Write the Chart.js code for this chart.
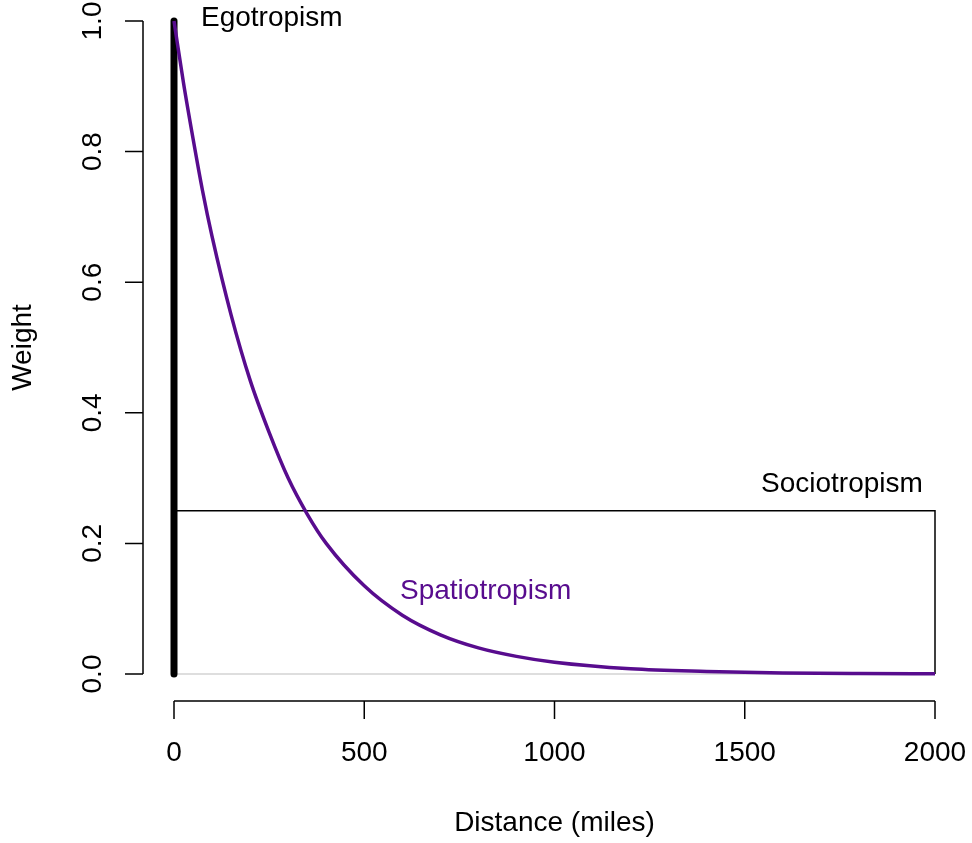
<!DOCTYPE html>
<html>
<head>
<meta charset="utf-8">
<script src="https://cdn.jsdelivr.net/npm/chart.js@4"></script>
<style>
  html, body { margin: 0; padding: 0; background: #fff; }
  #wrap { width: 972px; height: 843px; }
</style>
</head>
<body>
<div id="wrap"><canvas id="myChart" width="972" height="843"></canvas></div>
<script>
// data
const distance = [0, 25, 50, 75, 100, 150, 200, 250, 300, 350, 400, 500, 600, 700, 800, 900, 1000, 1200, 1400, 1600, 1800, 2000];
const spatioWeight = [1.0, 0.905, 0.82, 0.74, 0.67, 0.55, 0.45, 0.37, 0.30, 0.245, 0.20, 0.135, 0.09, 0.06, 0.04, 0.027, 0.018, 0.008, 0.004, 0.0017, 0.0007, 0.0003];
const egoX = [0, 0];
const egoY = [0, 1];
const socioX = [0, 2000, 2000];
const socioY = [0.25, 0.25, 0];
const baseX = [0, 2000];
const baseY = [0, 0];
const xTicks = [0, 500, 1000, 1500, 2000];
const yTicks = [0, 0.2, 0.4, 0.6, 0.8, 1.0];

const purple = '#580C8E';
const font = '28px "Liberation Sans", Arial, sans-serif';

function pts(xs, ys) {
  return xs.map(function(x, i){ return {x: x, y: ys[i]}; });
}

// R style axes + text labels
const baseAxes = {
  id: 'baseAxes',
  afterDraw(chart) {
    const c = chart.ctx;
    const xs = chart.scales.x, ys = chart.scales.y;
    c.save();
    c.strokeStyle = '#000';
    c.fillStyle = '#000';
    c.lineWidth = 1.5;
    c.font = font;

    // y axis
    const ax = 143;
    c.beginPath();
    c.moveTo(ax, ys.getPixelForValue(0));
    c.lineTo(ax, ys.getPixelForValue(1));
    yTicks.forEach(function(t){
      const py = ys.getPixelForValue(t);
      c.moveTo(ax, py);
      c.lineTo(ax - 18, py);
    });
    // x axis
    const ay = 701;
    c.moveTo(xs.getPixelForValue(0), ay);
    c.lineTo(xs.getPixelForValue(2000), ay);
    xTicks.forEach(function(t){
      const px = xs.getPixelForValue(t);
      c.moveTo(px, ay);
      c.lineTo(px, ay + 18);
    });
    c.stroke();

    c.textAlign = 'center';
    c.textBaseline = 'middle';
    xTicks.forEach(function(t){
      c.fillText(String(t), xs.getPixelForValue(t), 753);
    });
    c.fillText('Distance (miles)', (xs.left + xs.right) / 2, 823);

    yTicks.forEach(function(t){
      c.save();
      c.translate(93, ys.getPixelForValue(t));
      c.rotate(-Math.PI / 2);
      c.fillText(t.toFixed(1), 0, 0);
      c.restore();
    });
    c.save();
    c.translate(23, (ys.top + ys.bottom) / 2);
    c.rotate(-Math.PI / 2);
    c.fillText('Weight', 0, 0);
    c.restore();

    // curve labels
    c.textAlign = 'left';
    c.fillText('Egotropism', xs.getPixelForValue(71), ys.getPixelForValue(1.0043));
    c.textAlign = 'right';
    c.fillText('Sociotropism', xs.getPixelForValue(1968), ys.getPixelForValue(0.291));
    c.textAlign = 'left';
    c.fillStyle = purple;
    c.fillText('Spatiotropism', xs.getPixelForValue(594), ys.getPixelForValue(0.126));
    c.restore();
  }
};

const ctx = document.getElementById('myChart');

new Chart(ctx, {
  type: 'scatter',
  data: {
    datasets: [
      {
        label: 'Spatiotropism',
        data: pts(distance, spatioWeight),
        showLine: true,
        borderColor: purple,
        borderWidth: 3.5,
        pointRadius: 0,
        clip: false,
        cubicInterpolationMode: 'monotone'
      },
      {
        label: 'Egotropism',
        data: pts(egoX, egoY),
        showLine: true,
        borderColor: '#000',
        borderWidth: 7,
        borderCapStyle: 'round',
        clip: false,
        pointRadius: 0
      },
      {
        label: 'Sociotropism',
        data: pts(socioX, socioY),
        showLine: true,
        borderColor: '#000',
        borderWidth: 1.5,
        clip: false,
        pointRadius: 0
      },
      {
        label: 'base',
        data: pts(baseX, baseY),
        showLine: true,
        borderColor: '#d3d3d3',
        borderWidth: 1.5,
        clip: false,
        pointRadius: 0
      }
    ]
  },
  options: {
    responsive: false,
    animation: false,
    layout: { padding: { left: 174, right: 37, top: 21, bottom: 169 } },
    plugins: { legend: { display: false }, tooltip: { enabled: false } },
    scales: {
      x: { type: 'linear', min: 0, max: 2000, display: false },
      y: { type: 'linear', min: 0, max: 1, display: false }
    }
  },
  plugins: [baseAxes]
});
</script>
</body>
</html>
